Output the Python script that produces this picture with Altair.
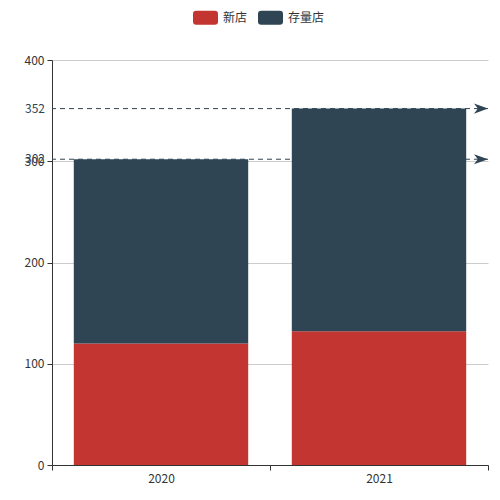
import pandas as pd
import altair as alt

years = ["2020", "2021"]
series = ["新店", "存量店"]
new_stores = [120, 132]
old_stores = [182, 220]
colors = ["#c23531", "#2f4554"]

rows = []
for i, y in enumerate(years):
    rows.append({"year": y, "series": "新店", "value": new_stores[i], "order": 0})
    rows.append({"year": y, "series": "存量店", "value": old_stores[i], "order": 1})
df = pd.DataFrame(rows)

FONT = "Noto Sans CJK SC"
W, H = 436, 405
rounded = ("M-0.74,-0.56 L0.74,-0.56 Q1,-0.56 1,-0.3 L1,0.3 Q1,0.56 0.74,0.56 "
           "L-0.74,0.56 Q-1,0.56 -1,0.3 L-1,-0.3 Q-1,-0.56 -0.74,-0.56 Z")
arrow = "M-1,-0.72 L1,0 L-1,0.72 L-0.45,0 Z"

bars = alt.Chart(df).mark_bar(width=alt.RelativeBandSize(0.8)).encode(
    x=alt.X("year:N", sort=years,
            scale=alt.Scale(paddingInner=0, paddingOuter=0),
            axis=alt.Axis(title=None, labelAngle=0, tickBand="extent", tickSize=5,
                          domainColor="#333", tickColor="#333", labelColor="#333",
                          labelFontSize=12, labelFont=FONT, labelPadding=3, grid=False)),
    y=alt.Y("value:Q", stack="zero",
            scale=alt.Scale(domain=[0, 400], nice=False),
            axis=alt.Axis(title=None, values=[0, 100, 200, 300, 400], tickSize=5,
                          domainColor="#333", tickColor="#333", labelColor="#333",
                          labelFontSize=12, labelFont=FONT, labelPadding=3,
                          grid=True, gridColor="#ccc")),
    color=alt.Color("series:N",
                    scale=alt.Scale(domain=series, range=colors),
                    legend=alt.Legend(title=None, orient="none", direction="horizontal",
                                      legendX=141, legendY=-55, padding=0,
                                      symbolType=rounded, symbolSize=625,
                                      symbolStrokeWidth=0, symbolOpacity=1,
                                      labelFont=FONT, labelFontSize=12, labelColor="#333",
                                      labelOffset=5, columnPadding=10)),
    order=alt.Order("order:Q"),
)

# dashed total lines (markLine style) with arrow heads and left-side labels
totals = alt.Chart(df).transform_aggregate(total="sum(value)", groupby=["year"])

rule = totals.mark_rule(color="#2f4554", strokeDash=[5, 4], strokeWidth=1).encode(
    y="total:Q"
)
head = totals.mark_point(shape=arrow, filled=True, size=196, color="#2f4554",
                         opacity=1).encode(y="total:Q", x=alt.value(W - 7))
label = totals.mark_text(align="right", baseline="middle", color="#2f4554",
                         fontSize=12, font=FONT).encode(
    y="total:Q", x=alt.value(-7), text="total:Q")

chart = alt.layer(bars, rule, head, label).properties(
    width=W, height=H,
    autosize=alt.AutoSizeParams(type="none"),
    padding={"left": 44, "top": 52, "right": 4, "bottom": 27},
    background="white",
).configure_view(stroke=None)

chart.save("out.html", embed_options={"renderer": "svg", "actions": False})
